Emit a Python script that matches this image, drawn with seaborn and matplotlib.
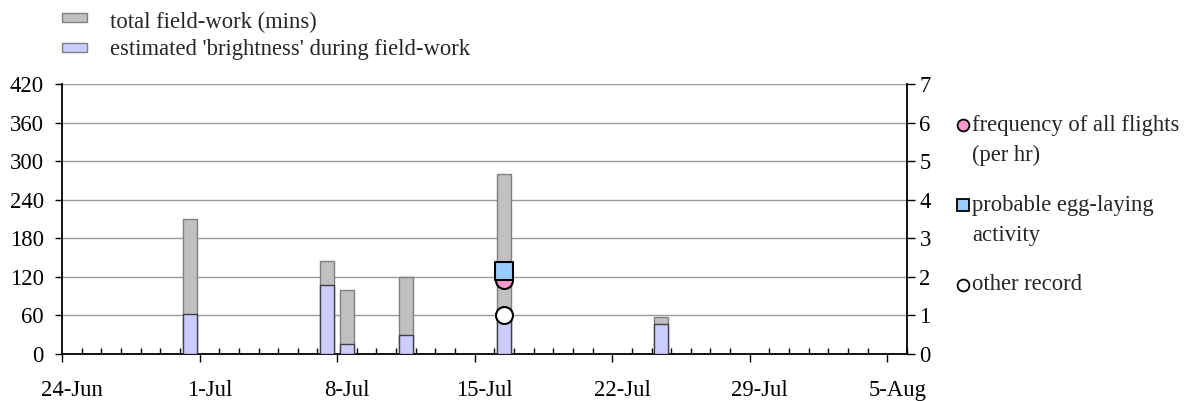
#!/usr/bin/env python3
"""Field-work minutes, brightness and flight records, 24-Jun to 5-Aug."""

import matplotlib.pyplot as plt
import matplotlib.transforms as mtransforms
from matplotlib.lines import Line2D
from matplotlib.patches import Rectangle
import seaborn as sns
import pandas as pd
import numpy as np

# data
start = '2000-06-24'
visit_dates = ['2000-06-30', '2000-07-07', '2000-07-08', '2000-07-11', '2000-07-16', '2000-07-24']
total_mins = [210, 145, 100, 120, 280, 58]
brightness = [62, 108, 15, 30, 60, 46]

record_date = ['2000-07-16']
flight_freq = [1.93]     # frequency of all flights (per hr)
egg_laying = [2.14]      # probable egg-laying activity
other_record = [1.0]

sns.set_style('ticks')
plt.rcParams['font.family'] = ['Liberation Serif', 'DejaVu Serif']
FS = 16.3
plt.rcParams['font.size'] = FS

W, H = 1189, 401
fig = plt.figure(figsize=(W / 100, H / 100), dpi=100)
ax = fig.add_axes([62 / W, 1 - 354 / H, (907 - 62) / W, (354 - 84) / H])

t0 = pd.Timestamp(start)
day_x = [(pd.Timestamp(d) - t0).days + 0.5 for d in visit_dates]
rec_x = [(pd.Timestamp(d) - t0).days + 0.5 for d in record_date]

df = pd.DataFrame({'day': day_x, 'total': total_mins, 'bright': brightness})

# gridlines behind
for v in np.arange(60, 421, 60):
    ax.axhline(v, color='#9a9a9a', lw=1, zorder=0)

sns.barplot(data=df, x='day', y='total', native_scale=True, width=0.72,
            color='#c0c0c0', edgecolor='#7f7f7f', linewidth=1, saturation=1,
            errorbar=None, ax=ax, zorder=2)
sns.barplot(data=df, x='day', y='bright', native_scale=True, width=0.72,
            color='#ccccff', edgecolor='#404040', linewidth=1, saturation=1,
            errorbar=None, ax=ax, zorder=3)

ax.set_xlim(0, 43)
ax.set_ylim(0, 420)
ax.set_yticks(np.arange(0, 421, 60))
ax.set_xlabel('')
ax.set_ylabel('')

major = pd.date_range(start, periods=7, freq='7D')
ax.set_xticks(np.arange(0, 43, 7))
ax.set_xticklabels([f"{d.day}-{d:%b}" for d in major])
ax.set_xticks(np.arange(0, 44, 1), minor=True)
ax.tick_params(axis='x', which='major', direction='out', length=6, width=1, pad=12.5, colors='black')
ax.tick_params(axis='x', which='minor', direction='in', length=4, width=1, colors='black')
ax.tick_params(axis='y', direction='out', length=5, width=1, pad=8, colors='black')

# centre the date labels on their day
shift = mtransforms.ScaledTranslation(0.5 * (907 - 62) / 43 / 100, 0, fig.dpi_scale_trans)
for lab in ax.get_xticklabels():
    lab.set_transform(lab.get_transform() + shift)

for side in ['left', 'bottom']:
    ax.spines[side].set_color('black')
    ax.spines[side].set_linewidth(1.3)
ax.spines['top'].set_visible(False)
ax.spines['right'].set_visible(False)

ax2 = ax.twinx()
ax2.set_ylim(0, 7)
ax2.set_yticks(range(0, 8))
ax2.tick_params(axis='y', direction='out', length=6, width=1, pad=3, colors='black')
ax2.spines['right'].set_color('black')
ax2.spines['right'].set_linewidth(1.3)
for side in ['top', 'left', 'bottom']:
    ax2.spines[side].set_visible(False)

sns.scatterplot(x=rec_x, y=flight_freq, marker='o', s=150, color='#ff99cc',
                edgecolor='black', linewidth=1.5, ax=ax2, zorder=4, clip_on=False)
sns.scatterplot(x=rec_x, y=egg_laying, marker='s', s=150, color='#99ccff',
                edgecolor='black', linewidth=1.5, ax=ax2, zorder=5, clip_on=False)
sns.scatterplot(x=rec_x, y=other_record, marker='o', s=150, color='white',
                edgecolor='black', linewidth=1.5, ax=ax2, zorder=6, clip_on=False)
ax2.set_xlim(0, 43)


def fx(px):
    return px / W


def fy(py):
    return 1 - py / H


# top-left legend for the bars
for (y0, y1), face, txt, base in [((13, 22), '#c0c0c0', 'total field-work (mins)', 28),
                                  ((43, 52), '#ccccff', "estimated 'brightness' during field-work", 55)]:
    fig.add_artist(Rectangle((fx(62), fy(y1)), fx(87) - fx(62), fy(y0) - fy(y1),
                             facecolor=face, edgecolor='#7f7f7f', lw=1,
                             transform=fig.transFigure))
    fig.text(fx(110), fy(base), txt, va='baseline', ha='left', fontsize=FS)

# right-hand legend for the markers
legend_items = [
    ('o', '#ff99cc', 125, ['frequency of all flights', '(per hr)']),
    ('s', '#99ccff', 205, ['probable egg-laying', 'activity']),
    ('o', 'white', 285, ['other record']),
]
for mk, face, ypx, lines in legend_items:
    fig.add_artist(Line2D([fx(963)], [fy(ypx)], marker=mk, markersize=8.5,
                          markerfacecolor=face, markeredgecolor='black',
                          markeredgewidth=1.3, linestyle='none',
                          transform=fig.transFigure))
    for i, line in enumerate(lines):
        fig.text(fx(972), fy(ypx + i * 30), line, va='center', ha='left', fontsize=FS)

fig.savefig('out.png', dpi=100)
print("Saved: out.png")
